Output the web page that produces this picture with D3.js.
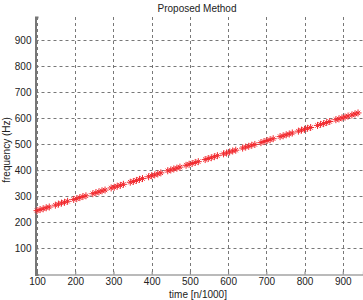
<!DOCTYPE html>
<html>
<head>
<meta charset="utf-8">
<script src="https://cdn.jsdelivr.net/npm/d3@7"></script>
<style>
  body { margin: 0; background: #fff; }
  text { font-family: "Liberation Sans", Arial, sans-serif; fill: #222; }
</style>
</head>
<body>
<div id="chart"></div>
<script>
const width = 363;
const height = 300;

// data
var timeValues = [100,108,116,124,132, 148,156,164,172,180,
  196,204,212,220,228, 246,254,262,270,278,
  294,302,310,318,326, 344,352,360,368,376,
  392,400,408,416,424, 442,450,458,466,474,
  490,498,506,514,522, 540,548,556,564,572,
  588,596,604,612,620, 638,646,654,662,670,
  686,694,702,710,718, 736,744,752,760,768,
  784,792,800,808,816, 834,842,850,858,866,
  882,890,898,906,914, 924,932,940];
var freqValues = [245,249,252,256,259, 266,270,274,277,281,
  288,291,295,299,302, 310,314,317,321,324,
  332,335,339,342,346, 354,357,361,365,368,
  375,379,382,386,390, 398,401,405,408,412,
  419,423,426,430,433, 441,445,448,452,456,
  463,466,470,474,477, 485,489,492,496,499,
  506,510,514,517,521, 529,532,536,539,543,
  550,554,557,561,564, 572,576,579,583,587,
  594,597,601,604,608, 612,616,620];
var xTicks = [100,200,300,400,500,600,700,800,900];
var yTicks = [100,200,300,400,500,600,700,800,900];

var plotLeft = 35.5, plotRight = 363, plotTop = 17, plotBottom = 274.5;

var xScale = d3.scaleLinear().domain([96, 953]).range([plotLeft, plotRight]);
var yScale = d3.scaleLinear().domain([0, 988]).range([plotBottom, plotTop]);

var svg = d3.select("#chart").append("svg")
  .attr("width", width)
  .attr("height", height);

// grid
svg.append("g").selectAll("line").data(xTicks).enter().append("line")
  .attr("x1", d => Math.round(xScale(d)) + 0.5)
  .attr("x2", d => Math.round(xScale(d)) + 0.5)
  .attr("y1", plotTop).attr("y2", plotBottom)
  .attr("stroke", "#555").attr("stroke-width", 0.8)
  .attr("stroke-dasharray", "3,3");
svg.append("g").selectAll("line").data(yTicks).enter().append("line")
  .attr("y1", d => Math.round(yScale(d)) + 0.5)
  .attr("y2", d => Math.round(yScale(d)) + 0.5)
  .attr("x1", plotLeft).attr("x2", plotRight)
  .attr("stroke", "#555").attr("stroke-width", 0.8)
  .attr("stroke-dasharray", "3,3");

// axes
var xAxis = d3.axisBottom(xScale).tickValues(xTicks).tickSize(-3).tickPadding(3);
var gx = svg.append("g").attr("transform", "translate(0," + plotBottom + ")").call(xAxis);
gx.select(".domain").attr("stroke", "#777").attr("stroke-width", 1.2);
gx.selectAll(".tick line").attr("stroke", "#777");
gx.selectAll("text").style("font-size", "10px").attr("fill", "#222");

var yAxis = d3.axisLeft(yScale).tickValues(yTicks).tickSize(-3).tickPadding(4);
var gy = svg.append("g").attr("transform", "translate(" + plotLeft + ",0)").call(yAxis);
gy.select(".domain").attr("stroke", "#777").attr("stroke-width", 2);
gy.selectAll(".tick line").attr("stroke", "#777");
gy.selectAll("text").style("font-size", "10px").attr("fill", "#222");

// markers: MATLAB-style asterisk (plus + times)
var plusSym = d3.symbol().type(d3.symbolPlus).size(18);
var timesSym = d3.symbol().type(d3.symbolTimes).size(14);
var marks = svg.append("g").selectAll("g").data(timeValues).enter().append("g")
  .attr("transform", (d, i) => "translate(" + xScale(d) + "," + yScale(freqValues[i]) + ")");
marks.append("path").attr("d", plusSym).attr("fill", "none").attr("stroke", "#f22a2f").attr("stroke-width", 1);
marks.append("path").attr("d", timesSym).attr("fill", "none").attr("stroke", "#f22a2f").attr("stroke-width", 1);

// title and labels
svg.append("text").attr("x", 197).attr("y", 12).attr("text-anchor", "middle")
  .style("font-size", "10px").text("Proposed Method");
svg.append("text").attr("x", 198).attr("y", 298).attr("text-anchor", "middle")
  .style("font-size", "10px").text("time [n/1000]");
svg.append("text").attr("transform", "translate(10,150) rotate(-90)").attr("text-anchor", "middle")
  .style("font-size", "10px").text("frequency (Hz)");
</script>
</body>
</html>
